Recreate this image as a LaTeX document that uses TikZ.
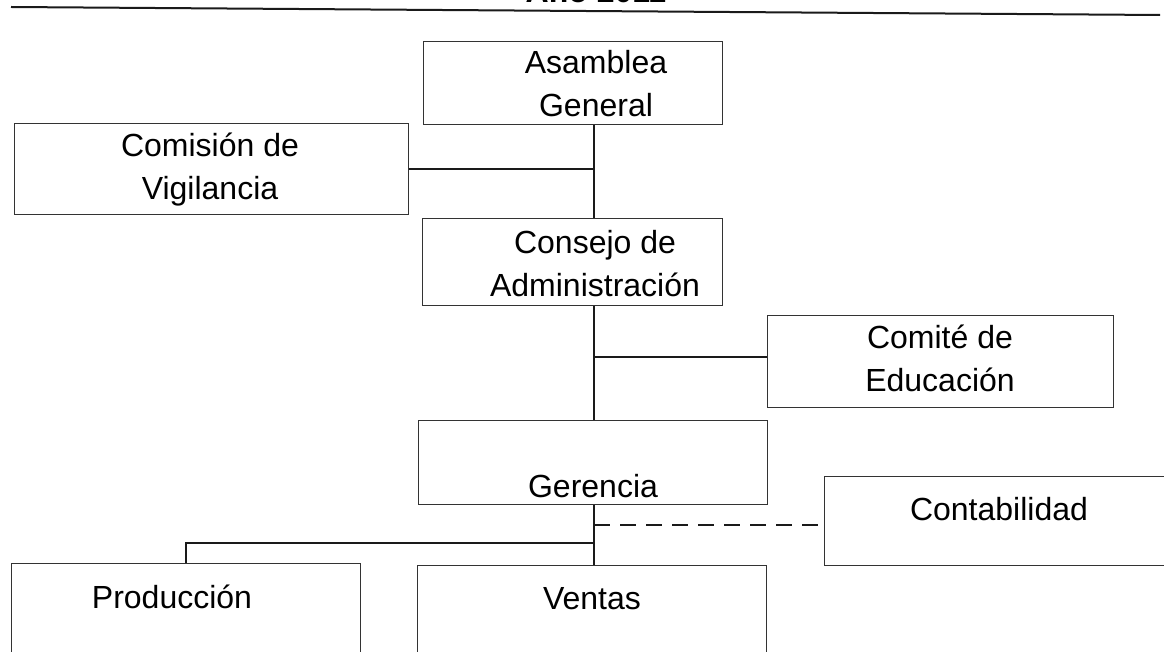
\documentclass[tikz,border=0pt]{standalone}
\usepackage{fontspec}
\setmainfont{Liberation Sans}
\usepackage{tikz}
\usetikzlibrary{calc}
\definecolor{orgline}{HTML}{1A1A1A}
\definecolor{orgbox}{HTML}{333333}
\tikzset{
  every picture/.style={line cap=butt, line join=miter},
  lbl/.style={font=\fontsize{32}{43}\selectfont, text=black, inner sep=0pt, align=center},
  ttl/.style={lbl, font=\fontsize{32}{43}\selectfont\bfseries},
  box/.style={draw=orgbox, line width=1.1pt, inner sep=0pt, anchor=north west},
  link/.style={orgline, line width=2pt},
  linkdash/.style={orgline, line width=2pt, dash pattern=on 16pt off 10pt},
}

\begin{document}
\begin{tikzpicture}[x=1pt, y=-1pt]
\useasboundingbox (0,0) rectangle (1164,652);
% title, cut by the page edge, and the rule under it
\node[ttl, anchor=base] (titulo) at (596,3) {Año 2011};
\draw[link] (11,7) -- (1160,15);
% boxes
\node[box, minimum width=299pt, minimum height=83pt] (asamblea) at (423,41) {};
\node[box, minimum width=394pt, minimum height=91pt] (comision) at (14,123) {};
\node[box, minimum width=300pt, minimum height=87pt] (consejo) at (422,218) {};
\node[box, minimum width=346pt, minimum height=92pt] (comite) at (767,315) {};
\node[box, minimum width=349pt, minimum height=84pt] (gerencia) at (418,420) {};
\node[box, minimum width=360pt, minimum height=89pt] (contab) at (824,476) {};
\node[box, minimum width=349pt, minimum height=120pt] (produccion) at (11,563) {};
\node[box, minimum width=349pt, minimum height=120pt] (ventas) at (417,565) {};
% texts
\node[lbl] (asamblea-txt) at (596,84) {Asamblea\\General};
\node[lbl] (comision-txt) at (210,170) {Comisión de\\Vigilancia};
\node[lbl] (consejo-txt) at (595,264) {Consejo de\\Administración};
\node[lbl] (comite-txt) at (940,358.5) {Comité de\\Educación};
\node[lbl, anchor=base] (gerencia-txt) at (593,497) {Gerencia};
\node[lbl, anchor=base] (contab-txt) at (999,520) {Contabilidad};
\node[lbl, anchor=base] (produccion-txt) at (172,608) {Producción};
\node[lbl, anchor=base] (ventas-txt) at (592,609) {Ventas};
% main line of command
\coordinate (axis) at (594,0);
\draw[link] (asamblea.south -| axis) -- (consejo.north -| axis);
\draw[link] (comision.east) -- (comision.east -| axis);
\draw[link] (consejo.south -| axis) -- (gerencia.north -| axis);
\coordinate (comite-in) at ($(comite.north west)!0.45!(comite.south west)$);
\draw[link] (comite-in -| axis) -- (comite-in);
\draw[link] (gerencia.south -| axis) -- (ventas.north -| axis);
% staff and production
\coordinate (contab-in) at ($(contab.north west)!0.54!(contab.south west)$);
\draw[linkdash] (contab-in -| axis) -- (contab-in);
\coordinate (split) at ($(gerencia.south -| axis)!0.64!(ventas.north -| axis)$);
\draw[link] (split) -| (produccion.north);
\end{tikzpicture}
\end{document}
